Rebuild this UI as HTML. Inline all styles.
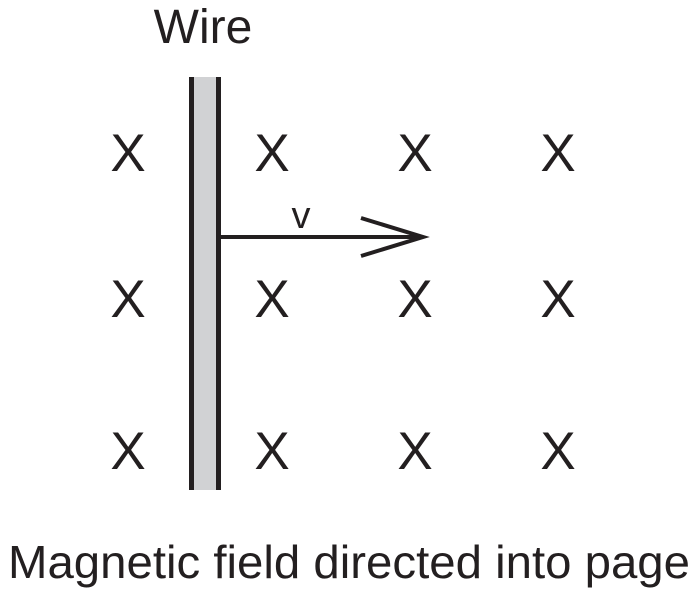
<!DOCTYPE html>
<html><head><style>
body{margin:0;background:#fff}
svg{display:block}
text{font-family:"Liberation Sans",Arial,sans-serif;fill:#231f20}
</style></head><body>
<svg width="695" height="594" viewBox="0 0 695 594">
<text x="203" y="43" font-size="48" text-anchor="middle">Wire</text>
<rect x="194" y="77" width="22" height="413" fill="#d1d2d4"/>
<line x1="191.5" y1="77" x2="191.5" y2="490" stroke="#231f20" stroke-width="5"/>
<line x1="218.5" y1="77" x2="218.5" y2="490" stroke="#231f20" stroke-width="5"/>
<line x1="219" y1="237" x2="423" y2="237" stroke="#231f20" stroke-width="4"/>
<polyline points="361,218 423,237 361,256" fill="none" stroke="#231f20" stroke-width="4"/>
<text x="301" y="228" font-size="38" text-anchor="middle">v</text>
<g font-size="53" text-anchor="middle">
<text x="128" y="171">X</text><text x="272" y="171">X</text><text x="415" y="171">X</text><text x="558" y="171">X</text>
<text x="128" y="317">X</text><text x="272" y="317">X</text><text x="415" y="317">X</text><text x="558" y="317">X</text>
<text x="128" y="469">X</text><text x="272" y="469">X</text><text x="415" y="469">X</text><text x="558" y="469">X</text>
</g>
<text x="349" y="578" font-size="46" text-anchor="middle" textLength="682" lengthAdjust="spacingAndGlyphs">Magnetic field directed into page</text>
</svg>
</body></html>
